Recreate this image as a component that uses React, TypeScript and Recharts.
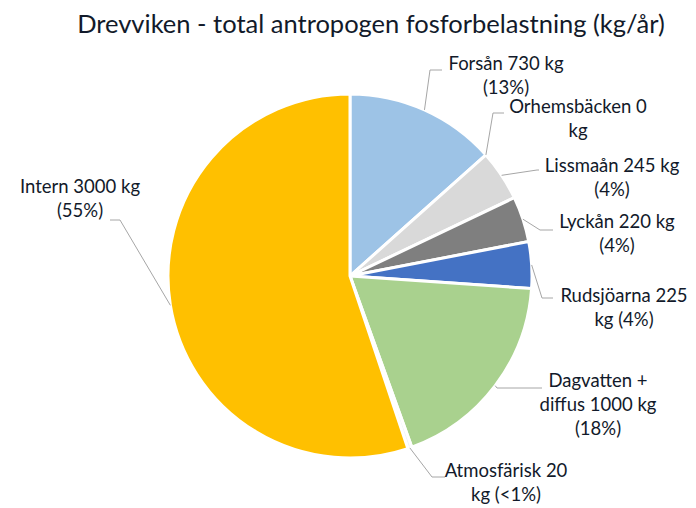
import React from 'react';
import { PieChart, Pie, Cell } from 'recharts';

const names = [
  'Forsån',
  'Orhemsbäcken',
  'Lissmaån',
  'Lyckån',
  'Rudsjöarna',
  'Dagvatten + diffus',
  'Atmosfärisk',
  'Intern',
];
const values = [730, 0, 245, 220, 225, 1000, 20, 3000];
const labelLines = [
  ['Forsån 730 kg', '(13%)'],
  ['Orhemsbäcken 0', 'kg'],
  ['Lissmaån 245 kg', '(4%)'],
  ['Lyckån 220 kg', '(4%)'],
  ['Rudsjöarna 225', 'kg (4%)'],
  ['Dagvatten +', 'diffus 1000 kg', '(18%)'],
  ['Atmosfärisk 20', 'kg (<1%)'],
  ['Intern 3000 kg', '(55%)'],
];

const colors = ['#9DC3E6', '#BDD7EE', '#D9D9D9', '#7F7F7F', '#4472C4', '#A9D18E', '#EEF3FA', '#FFC000'];

// label layout: text centre x, first baseline y, and leader elbow points
const layout = [
  { x: 506, y: 70, pts: [[430, 70], [442, 70]] },
  { x: 578, y: 113, pts: [[493, 113], [504, 113]] },
  { x: 612, y: 172, pts: [[537, 170], [539, 170]] },
  { x: 617, y: 228, pts: [[540, 230], [553, 230]] },
  { x: 624, y: 302, pts: [[542, 298], [553, 298]] },
  { x: 598, y: 387, pts: [[497, 388], [542, 388]] },
  { x: 506, y: 477, pts: [[432, 477], [445, 477]] },
  { x: 80, y: 193, pts: [[120, 220], [110, 220]] },
];

const data = names.map((name, i) => ({ name, value: values[i] }));

const RAD = Math.PI / 180;
const textColor = '#121a2a';
const font = 'Lato, "Open Sans", sans-serif';

const renderLabel = (props: any) => {
  const { cx, cy, midAngle, outerRadius, index } = props;
  const l = layout[index];
  const sx = cx + outerRadius * Math.cos(-midAngle * RAD);
  const sy = cy + outerRadius * Math.sin(-midAngle * RAD);
  const pts = [[sx, sy], ...l.pts].map((p) => p.join(',')).join(' ');
  return (
    <g key={`lbl-${index}`}>
      <polyline points={pts} fill="none" stroke="#A6A6A6" strokeWidth={1} />
      <text x={l.x} y={l.y} textAnchor="middle" fontSize={18.5} fill={textColor} fontFamily={font}>
        {labelLines[index].map((t, j) => (
          <tspan key={j} x={l.x} y={l.y + j * 24}>
            {t}
          </tspan>
        ))}
      </text>
    </g>
  );
};

export default function App() {
  return (
    <div style={{ position: 'absolute', left: 0, top: 0, width: 696, height: 508, background: '#fff' }}>
      <PieChart width={696} height={508}>
        <text x={371} y={33} textAnchor="middle" fontSize={25.5} fill={textColor} fontFamily={font}>
          Drevviken - total antropogen fosforbelastning (kg/år)
        </text>
        <Pie
          data={data}
          dataKey="value"
          nameKey="name"
          cx={345}
          cy={271}
          outerRadius={182}
          startAngle={90}
          endAngle={-270}
          stroke="#fff"
          strokeWidth={3}
          label={renderLabel}
          labelLine={false}
          isAnimationActive={false}
        >
          {data.map((d, i) => (
            <Cell key={d.name} fill={colors[i]} />
          ))}
        </Pie>
      </PieChart>
    </div>
  );
}
